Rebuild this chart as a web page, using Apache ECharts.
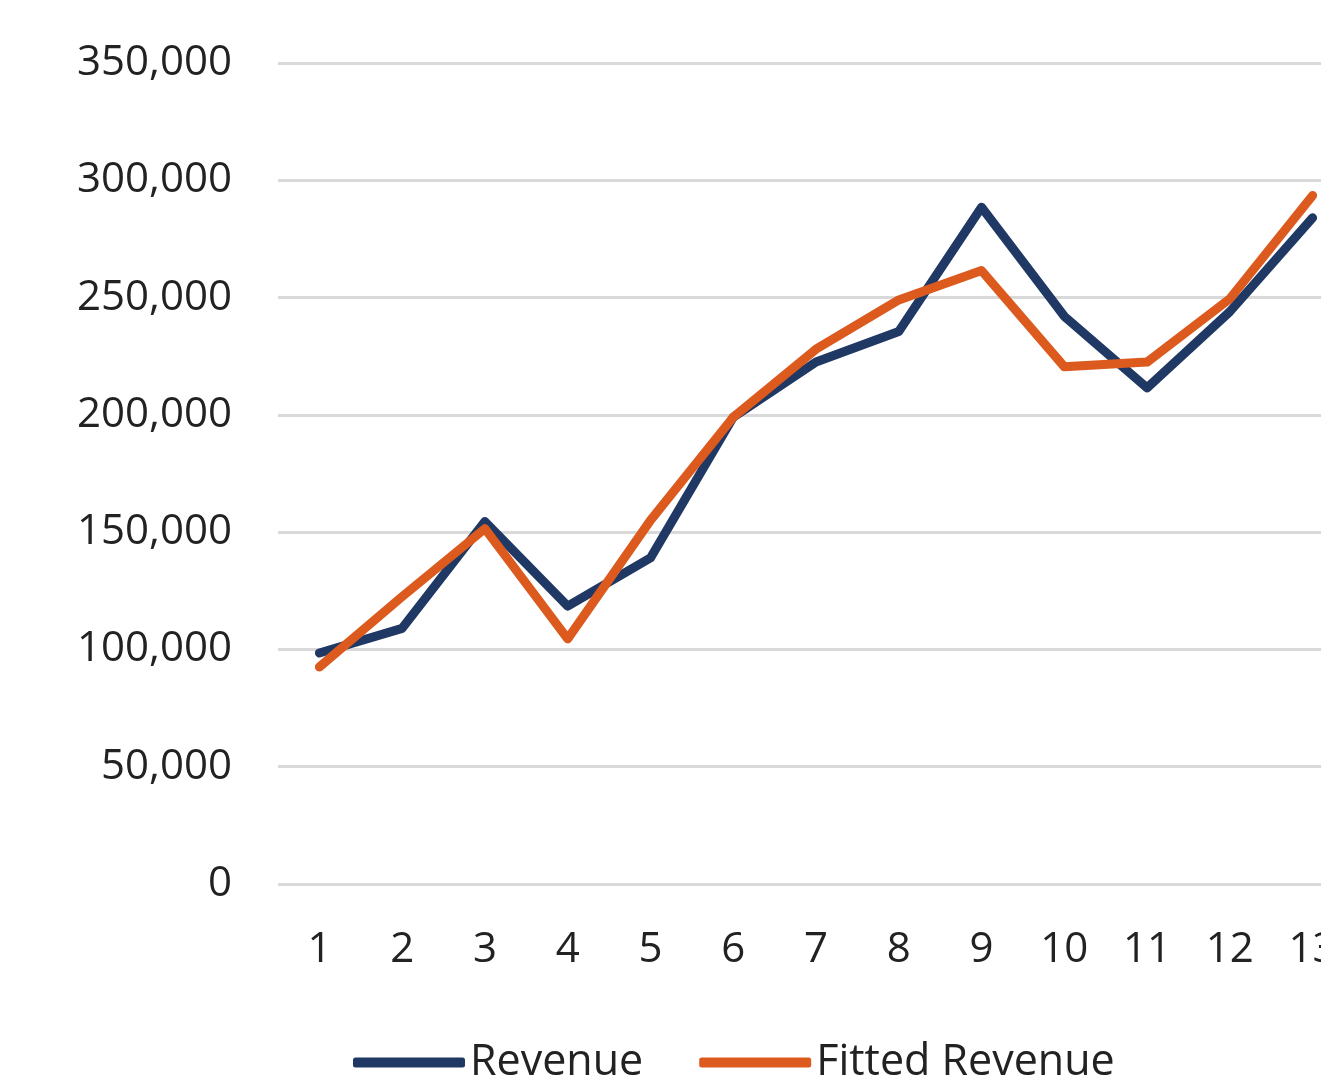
<!DOCTYPE html>
<html>
<head>
<meta charset="utf-8">
<script src="https://cdn.jsdelivr.net/npm/echarts@6/dist/echarts.min.js"></script>
<style>
html,body{margin:0;padding:0;background:#fff;overflow:hidden;}
#chart{width:1354px;height:1085px;}
</style>
</head>
<body>
<div id="chart"></div>
<script>
var periods = ['1','2','3','4','5','6','7','8','9','10','11','12','13'];
var revenue = [98500, 109000, 154500, 118500, 139000, 199000, 222500, 235500, 288500, 242000, 211500, 244000, 284000];
var fitted  = [92500, 122500, 151500, 104500, 155000, 199000, 228000, 249000, 261500, 220500, 222500, 249500, 293500];
var yTicks  = [0, 50000, 350000];   // min, interval, max

// the plot runs past the right edge of the window, so the canvas is a bit wider than the page
var myChart = echarts.init(document.getElementById('chart'));
var font = '"Open Sans", "Noto Sans", sans-serif';

var option = {
	animation: false,
	backgroundColor: '#ffffff',
	grid: {left: 278, right: 0, top: 63, bottom: 201},
	legend: {
		top: 1036,
		left: 348,
		data: ['Revenue', 'Fitted Revenue'],
		icon: 'roundRect',
		itemWidth: 112,
		itemHeight: 10,
		itemGap: 56,
		textStyle: {fontFamily: font, fontSize: 43, color: '#222', padding: [0, 0, 0, 0]}
	},
	xAxis: {
		type: 'category',
		data: periods,
		boundaryGap: true,
		axisLine: {show: false},
		axisTick: {show: false},
		axisLabel: {fontFamily: font, fontSize: 42, color: '#222', margin: 45}
	},
	yAxis: {
		type: 'value',
		min: yTicks[0],
		interval: yTicks[1],
		max: yTicks[2],
		axisLine: {show: false},
		axisTick: {show: false},
		splitLine: {lineStyle: {color: '#d9d9d9', width: 3}},
		axisLabel: {
			fontFamily: font, fontSize: 42, color: '#222', margin: 46,
			formatter: function(v){ return v.toLocaleString('en-US'); }
		}
	},
	series: [
		{
			name: 'Revenue',
			type: 'line',
			data: revenue,
			symbol: 'none',
			itemStyle: {color: '#203864'},
			lineStyle: {color: '#203864', width: 9, cap: 'round', join: 'round'}
		},
		{
			name: 'Fitted Revenue',
			type: 'line',
			data: fitted,
			symbol: 'none',
			itemStyle: {color: '#dc5a1e'},
			lineStyle: {color: '#dc5a1e', width: 9, cap: 'round', join: 'round'}
		}
	]
};
myChart.setOption(option);
</script>
</body>
</html>
